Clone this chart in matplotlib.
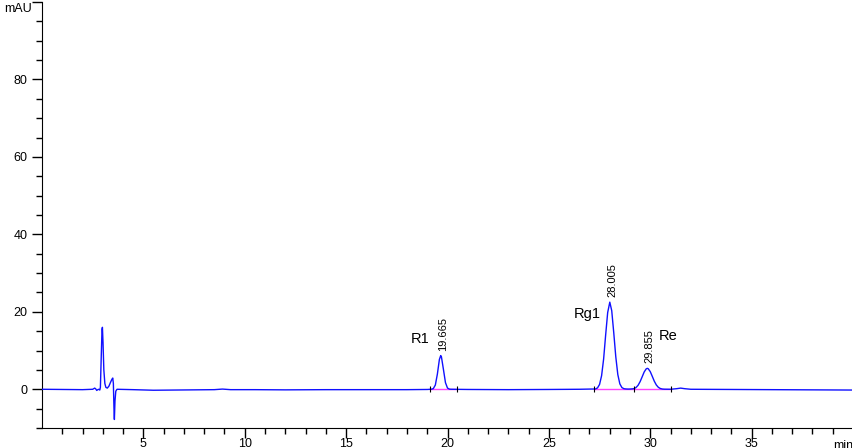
import matplotlib.pyplot as plt
import numpy as N

plt.rcParams['font.family'] = ['Liberation Sans', 'DejaVu Sans']

# signal (time in min, absorbance in mAU)
time = [0.0, 1.0, 2.0, 2.5, 2.6, 2.65, 2.7, 2.75, 2.8, 2.85, 2.88, 2.92, 2.96, 2.98,
        3.01, 3.05, 3.10, 3.15, 3.22, 3.30, 3.38, 3.45, 3.49, 3.52, 3.55, 3.57, 3.60,
        3.64, 3.70, 4.5, 5.5, 6.5, 7.5, 8.5, 8.9, 9.3, 10.5, 12.0, 14.0, 16.0, 18.0,
        19.0, 19.2, 19.3, 19.4, 19.5, 19.6, 19.665, 19.7, 19.8, 19.9, 20.0, 20.1, 20.2,
        21.0, 23.0, 25.0, 26.5, 27.3, 27.4, 27.5, 27.6, 27.7, 27.8, 27.9, 28.005, 28.1,
        28.2, 28.3, 28.4, 28.5, 28.6, 28.7, 28.8, 28.9, 29.0, 29.1, 29.2, 29.3, 29.4,
        29.5, 29.6, 29.7, 29.8, 29.855, 29.9, 30.0, 30.1, 30.2, 30.3, 30.4, 30.5, 30.6,
        30.7, 31.0, 31.3, 31.5, 31.7, 32.0, 34.0, 36.0, 38.0, 40.0]
signal = [0.0, -0.05, -0.1, 0.0, 0.3, 0.1, -0.3, -0.1, 0.0, -0.2, 0.5, 8.0, 15.5, 16.0,
          12.0, 5.0, 1.5, 0.5, 0.3, 0.8, 1.8, 2.6, 2.9, 1.5, -5.0, -7.8, -3.0,
          -0.5, 0.0, -0.1, -0.25, -0.2, -0.15, -0.1, 0.05, -0.1, -0.1, -0.15, -0.1, -0.1, -0.1,
          -0.05, 0.01, 0.17, 1.09, 3.9, 7.7, 8.7, 8.4, 5.1, 1.7, 0.31, 0.03, 0.0,
          -0.05, -0.1, -0.05, 0.0, 0.08, 0.36, 1.25, 3.5, 7.8, 14.0, 19.8, 22.5, 20.3,
          14.6, 8.4, 3.8, 1.4, 0.45, 0.15, 0.08, 0.05, 0.06, 0.1, 0.17, 0.46, 1.03,
          1.97, 3.2, 4.46, 5.27, 5.4, 5.31, 4.56, 3.34, 2.08, 1.11, 0.5, 0.19, 0.06,
          0.02, 0.0, 0.15, 0.3, 0.15, 0.0, -0.05, -0.1, -0.15, -0.2]

# integrated peaks
peak_rt = [19.665, 28.005, 29.855]
peak_height = [8.7, 22.5, 5.4]
peak_name = ['R1', 'Rg1', 'Re']
name_pos = [(19.1, 12.9, 'right'), (27.55, 19.4, 'right'), (30.4, 13.7, 'left')]
baselines = [(19.15, 20.45), (27.25, 31.0)]
peak_marks = [19.15, 20.45, 27.25, 29.18, 31.0]

fig = plt.figure(figsize=(8.53, 4.48), dpi=100)
ax = fig.add_axes([42 / 853, 20 / 448, 811 / 853, 426 / 448])

for start, end in baselines:
    ax.plot([start, end], [0, 0], color='#ff40ff', lw=1.0, zorder=2)
ax.plot(time, signal, color='#1010ff', lw=1.0, zorder=3)
ax.vlines(peak_marks, -0.8, 0.8, color='black', lw=0.8, zorder=4)

for rt, h in zip(peak_rt, peak_height):
    ax.text(rt + 0.12, h + 1.3, '%.3f' % rt, rotation=90, ha='center', va='bottom',
            fontsize=8)
for name, (x, y, ha) in zip(peak_name, name_pos):
    ax.text(x, y, name, ha=ha, va='center', fontsize=10.5)

ax.set_xlim(0, 40)
ax.set_ylim(-10, 100)
ax.set_xticks(N.arange(5, 40, 5))
ax.set_xticks(N.arange(1, 40, 1), minor=True)
ax.set_yticks([0, 20, 40, 60, 80, 100])
ax.set_yticklabels(['0', '20', '40', '60', '80', ''])
ax.set_yticks(N.arange(-10, 100, 5), minor=True)
ax.tick_params(axis='both', which='major', length=7, width=1, labelsize=9, direction='out')
ax.tick_params(axis='x', which='major', pad=0.5)
ax.tick_params(axis='both', which='minor', length=4, width=1, direction='out')
for side in ['top', 'right']:
    ax.spines[side].set_visible(False)

ax.text(-0.012, 98.2, 'mAU', transform=ax.get_yaxis_transform(), ha='right', va='center',
        fontsize=9)
ax.text(1.0, -0.042, 'min', transform=ax.transAxes, ha='right', va='center', fontsize=9)

fig.savefig('out.png', dpi=100)
